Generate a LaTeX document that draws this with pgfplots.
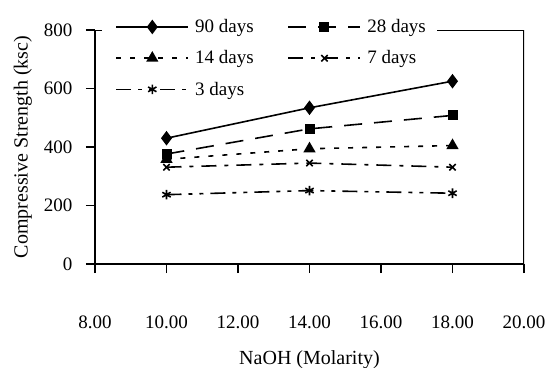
\documentclass[border=0pt]{standalone}
\usepackage{fontspec}
\setmainfont{Liberation Serif}
\usepackage{pgfplots}
\pgfplotsset{compat=1.18}
\newcommand{\bigf}{\fontsize{19}{22}\selectfont}
\newcommand{\labf}{\fontsize{20}{23}\selectfont}
\begin{document}
\begin{tikzpicture}
\begin{axis}[
  scale only axis, width=429pt, height=234pt,
  xmin=8, xmax=20, ymin=0, ymax=800,
  axis x line*=bottom, axis y line*=left,
  xtick={8,10,...,20}, ytick={0,200,...,800},
  /pgf/number format/assume math mode=true,
  xticklabel={\pgfmathprintnumber[fixed,fixed zerofill,precision=2]{\tick}},
  yticklabel={\pgfmathprintnumber[fixed,precision=0]{\tick}},
  tick align=outside, major tick length=9pt,
  every tick/.style={black, line width=1.3pt},
  axis line style={-, line width=1.5pt},
  tick label style={font=\bigf},
  x tick label style={yshift=-39pt},
  y tick label style={xshift=-10pt},
  label style={font=\labf},
  xlabel={NaOH (Molarity)},
  xlabel style={at={(axis description cs:0.5,0)}, anchor=base, yshift=-100pt},
  ylabel={Compressive Strength (ksc)},
  ylabel style={at={(axis description cs:-0.168,0.5)}, anchor=center},
  legend columns=2,
  legend cell align=left,
  legend style={at={(rel axis cs:0.045,1.058)}, anchor=north west, fill=none, draw=none,
    font=\bigf, inner sep=1pt, row sep=12.5pt,
    nodes={inner sep=2pt},
    /tikz/every odd column/.append style={column sep=4pt},
    /tikz/every even column/.append style={column sep=32pt}},
  legend image code/.code={\draw[mark repeat=2,mark phase=2,#1] plot coordinates {(0pt,0pt) (36pt,0pt) (72pt,0pt)};},
  every axis plot/.append style={black, line width=1.6pt, mark options={solid}},
]
\addplot[solid, mark=diamond*, mark size=6pt] coordinates {(10,430) (14,534) (18,625)};
\addlegendentry{90 days}
\addplot[dash pattern=on 18pt off 12pt, mark=square*, mark size=4.2pt] coordinates {(10,376) (14,462) (18,508)};
\addlegendentry{28 days}
\addplot[dash pattern=on 5pt off 9pt, mark=triangle*, mark size=5.5pt] coordinates {(10,358) (14,394) (18,405)};
\addlegendentry{14 days}
\addplot[dash pattern=on 15pt off 8pt on 4pt off 8pt, mark=x, mark size=4.5pt] coordinates {(10,331) (14,345) (18,331)};
\addlegendentry{7 days}
\addplot[dash pattern=on 15pt off 7pt on 4pt off 7pt on 4pt off 7pt, mark=asterisk, mark size=4.8pt] coordinates {(10,237) (14,251) (18,242)};
\addlegendentry{3 days}
\draw[line width=1.5pt] (rel axis cs:0,1) -- (rel axis cs:0.016,1);
\draw[line width=1.5pt, line cap=rect] (rel axis cs:0.80,1) -- (rel axis cs:1,1) -- (rel axis cs:1,0);
\end{axis}
\pgfresetboundingbox
\path[use as bounding box] (current axis.south west) ++(-95pt,-103pt) rectangle ++(556pt,367pt);
\end{tikzpicture}
\end{document}
